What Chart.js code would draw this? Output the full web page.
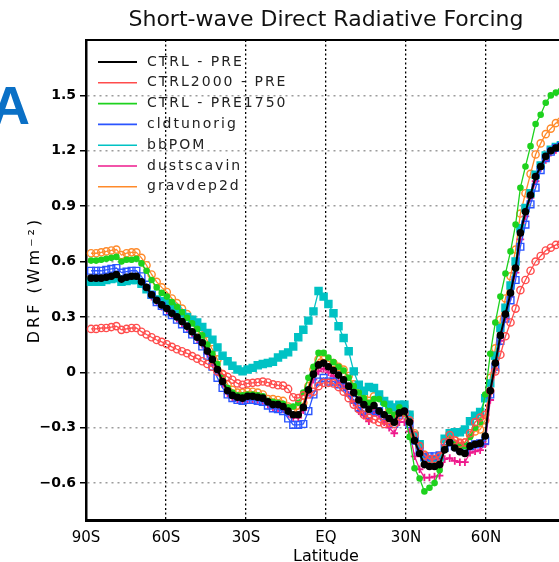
<!DOCTYPE html>
<html>
<head>
<meta charset="utf-8">
<script src="https://cdn.jsdelivr.net/npm/chart.js@4.4.1/dist/chart.umd.min.js"></script>
<style>
  html, body { margin: 0; padding: 0; background: #fff; overflow: hidden; }
  #wrap { width: 559px; height: 562px; overflow: hidden; }
  canvas { display: block; }
</style>
</head>
<body>
<div id="wrap"><canvas id="drfChart" width="652" height="562"></canvas></div>
<script>
// latitudes of the model grid (deg, S negative)
const lats = [-88.1, -86.2, -84.3, -82.4, -80.5, -78.6, -76.7, -74.8, -72.9, -71.1,
  -69.2, -67.3, -65.4, -63.5, -61.6, -59.7, -57.8, -55.9, -54.0, -52.1,
  -50.2, -48.3, -46.4, -44.5, -42.6, -40.7, -38.8, -36.9, -35.1, -33.2,
  -31.3, -29.4, -27.5, -25.6, -23.7, -21.8, -19.9, -18.0, -16.1, -14.2,
  -12.3, -10.4, -8.5, -6.6, -4.7, -2.8, -0.9, 0.9, 2.8, 4.7,
  6.6, 8.5, 10.4, 12.3, 14.2, 16.1, 18.0, 19.9, 21.8, 23.7,
  25.6, 27.5, 29.4, 31.3, 33.2, 35.1, 36.9, 38.8, 40.7, 42.6,
  44.5, 46.4, 48.3, 50.2, 52.1, 54.0, 55.9, 57.8, 59.7, 61.6,
  63.5, 65.4, 67.3, 69.2, 71.1, 72.9, 74.8, 76.7, 78.6, 80.5,
  82.4, 84.3, 86.2, 88.1, 90.0];

const ctrlPre = [0.51, 0.51, 0.51, 0.515, 0.52, 0.53, 0.505, 0.515, 0.52, 0.52,
  0.49, 0.46, 0.42, 0.39, 0.365, 0.345, 0.32, 0.30, 0.275, 0.25,
  0.22, 0.19, 0.16, 0.115, 0.07, 0.015, -0.05, -0.10, -0.125, -0.135,
  -0.14, -0.13, -0.13, -0.135, -0.14, -0.16, -0.175, -0.175, -0.185, -0.21,
  -0.23, -0.23, -0.19, -0.095, -0.01, 0.04, 0.05, 0.03, 0.01, -0.015,
  -0.04, -0.075, -0.11, -0.15, -0.175, -0.2, -0.18, -0.21, -0.23, -0.25,
  -0.27, -0.22, -0.21, -0.27, -0.37, -0.44, -0.50, -0.51, -0.51, -0.50,
  -0.42, -0.38, -0.41, -0.43, -0.44, -0.40, -0.39, -0.385, -0.345, -0.10,
  0.05, 0.2, 0.315, 0.43, 0.565, 0.755, 0.87, 0.96, 1.06, 1.115,
  1.17, 1.20, 1.215, 1.225, 1.23];

const ctrl2000Pre = [0.235, 0.235, 0.24, 0.24, 0.245, 0.25, 0.23, 0.235, 0.24, 0.24,
  0.22, 0.205, 0.19, 0.175, 0.165, 0.152, 0.138, 0.125, 0.114, 0.103,
  0.088, 0.074, 0.06, 0.045, 0.03, 0.005, -0.01, -0.025, -0.04, -0.06,
  -0.067, -0.06, -0.057, -0.054, -0.05, -0.055, -0.065, -0.07, -0.072, -0.09,
  -0.135, -0.14, -0.125, -0.12, -0.105, -0.075, -0.057, -0.057, -0.06, -0.08,
  -0.105, -0.14, -0.175, -0.2, -0.23, -0.245, -0.255, -0.27, -0.28, -0.275,
  -0.28, -0.24, -0.22, -0.26, -0.34, -0.40, -0.45, -0.47, -0.47, -0.455,
  -0.38, -0.34, -0.37, -0.385, -0.38, -0.33, -0.27, -0.245, -0.23, -0.10,
  0.005, 0.095, 0.195, 0.27, 0.345, 0.445, 0.50, 0.55, 0.60, 0.63,
  0.66, 0.675, 0.69, 0.695, 0.70];

const ctrlPre1750 = [0.605, 0.605, 0.61, 0.615, 0.62, 0.625, 0.60, 0.61, 0.61, 0.615,
  0.59, 0.55, 0.50, 0.46, 0.43, 0.41, 0.38, 0.355, 0.325, 0.295,
  0.265, 0.235, 0.20, 0.15, 0.10, 0.045, -0.03, -0.085, -0.11, -0.125,
  -0.125, -0.12, -0.12, -0.125, -0.13, -0.155, -0.16, -0.165, -0.17, -0.19,
  -0.185, -0.165, -0.11, -0.03, 0.03, 0.105, 0.105, 0.08, 0.055, 0.03,
  0.01, -0.03, -0.075, -0.11, -0.14, -0.165, -0.145, -0.145, -0.17, -0.21,
  -0.23, -0.19, -0.22, -0.35, -0.52, -0.575, -0.645, -0.625, -0.60, -0.53,
  -0.41, -0.36, -0.39, -0.40, -0.40, -0.35, -0.30, -0.27, -0.12, 0.10,
  0.27, 0.41, 0.535, 0.655, 0.80, 1.00, 1.115, 1.225, 1.345, 1.395,
  1.46, 1.50, 1.515, 1.525, 1.53];

const cldtunorig = [0.55, 0.55, 0.55, 0.555, 0.56, 0.565, 0.54, 0.545, 0.55, 0.55,
  0.52, 0.475, 0.42, 0.38, 0.36, 0.33, 0.31, 0.285, 0.26, 0.235,
  0.205, 0.175, 0.14, 0.09, 0.03, -0.03, -0.085, -0.12, -0.14, -0.15,
  -0.155, -0.15, -0.15, -0.155, -0.16, -0.18, -0.195, -0.20, -0.21, -0.25,
  -0.285, -0.285, -0.28, -0.21, -0.12, -0.05, -0.03, -0.05, -0.05, -0.065,
  -0.08, -0.11, -0.15, -0.19, -0.21, -0.23, -0.21, -0.21, -0.24, -0.26,
  -0.28, -0.23, -0.22, -0.28, -0.37, -0.43, -0.46, -0.455, -0.455, -0.45,
  -0.41, -0.38, -0.40, -0.415, -0.425, -0.40, -0.39, -0.385, -0.37, -0.12,
  0.03, 0.17, 0.29, 0.39, 0.50, 0.68, 0.80, 0.91, 1.00, 1.095,
  1.16, 1.195, 1.215, 1.225, 1.23];

const bbPOM = [0.49, 0.49, 0.49, 0.50, 0.505, 0.51, 0.49, 0.495, 0.50, 0.50,
  0.48, 0.45, 0.42, 0.395, 0.385, 0.375, 0.355, 0.34, 0.32, 0.30,
  0.285, 0.27, 0.245, 0.213, 0.177, 0.135, 0.09, 0.06, 0.035, 0.015,
  0.005, 0.015, 0.024, 0.038, 0.045, 0.05, 0.057, 0.08, 0.096, 0.108,
  0.14, 0.19, 0.23, 0.28, 0.33, 0.44, 0.41, 0.37, 0.32, 0.25,
  0.186, 0.114, 0.005, -0.067, -0.10, -0.08, -0.085, -0.12, -0.155, -0.175,
  -0.19, -0.175, -0.175, -0.23, -0.345, -0.39, -0.46, -0.475, -0.475, -0.46,
  -0.36, -0.33, -0.325, -0.325, -0.31, -0.265, -0.235, -0.215, -0.14, -0.06,
  0.09, 0.24, 0.35, 0.47, 0.60, 0.78, 0.89, 0.97, 1.07, 1.12,
  1.175, 1.205, 1.22, 1.23, 1.235];

const dustscavin = [0.50, 0.50, 0.50, 0.505, 0.51, 0.52, 0.495, 0.505, 0.51, 0.51,
  0.48, 0.45, 0.41, 0.38, 0.355, 0.335, 0.31, 0.29, 0.265, 0.24,
  0.21, 0.18, 0.15, 0.10, 0.05, 0.0, -0.065, -0.115, -0.14, -0.15,
  -0.155, -0.145, -0.145, -0.15, -0.155, -0.175, -0.19, -0.195, -0.2, -0.225,
  -0.245, -0.245, -0.205, -0.11, -0.04, 0.005, 0.02, 0.0, -0.02, -0.055,
  -0.075, -0.12, -0.165, -0.21, -0.235, -0.265, -0.22, -0.235, -0.27, -0.30,
  -0.33, -0.27, -0.27, -0.32, -0.455, -0.525, -0.57, -0.57, -0.565, -0.56,
  -0.47, -0.465, -0.48, -0.487, -0.487, -0.436, -0.428, -0.422, -0.39, -0.15,
  0.02, 0.17, 0.29, 0.41, 0.54, 0.72, 0.845, 0.945, 1.035, 1.105,
  1.15, 1.19, 1.205, 1.215, 1.22];

const gravdep2d = [0.645, 0.645, 0.65, 0.655, 0.66, 0.665, 0.635, 0.645, 0.65, 0.65,
  0.62, 0.58, 0.53, 0.49, 0.46, 0.435, 0.40, 0.375, 0.345, 0.315,
  0.285, 0.255, 0.22, 0.17, 0.125, 0.07, -0.01, -0.065, -0.095, -0.11,
  -0.11, -0.105, -0.105, -0.11, -0.12, -0.145, -0.145, -0.15, -0.155, -0.185,
  -0.20, -0.20, -0.165, -0.075, 0.015, 0.07, 0.07, 0.06, 0.05, 0.03,
  0.015, -0.02, -0.065, -0.10, -0.13, -0.155, -0.13, -0.13, -0.16, -0.20,
  -0.22, -0.185, -0.185, -0.23, -0.33, -0.39, -0.445, -0.47, -0.47, -0.46,
  -0.375, -0.33, -0.365, -0.38, -0.38, -0.34, -0.32, -0.31, -0.26, -0.03,
  0.13, 0.285, 0.40, 0.52, 0.665, 0.86, 0.97, 1.075, 1.18, 1.24,
  1.29, 1.32, 1.35, 1.36, 1.37];

const seriesNames = ["CTRL - PRE", "CTRL2000 - PRE", "CTRL - PRE1750", "cldtunorig", "bbPOM", "dustscavin", "gravdep2d"];
const seriesData = [ctrlPre, ctrl2000Pre, ctrlPre1750, cldtunorig, bbPOM, dustscavin, gravdep2d];

// 90N sits just past the right edge of the picture, so its label stays blank
const xTickVals = [-90, -60, -30, 0, 30, 60, 90];
const xTickLabels = ["90S", "60S", "30S", "EQ", "30N", "60N", ""];
const yTickVals = [-0.6, -0.3, 0, 0.3, 0.6, 0.9, 1.2, 1.5];

// look of each series: colour, marker, filled?
const looks = [
  { color: "#000000", marker: "circle", r: 3.1, filled: true, lw: 2 },
  { color: "#ff4c4c", marker: "circle", r: 3.6, filled: false, lw: 1.3 },
  { color: "#1ed21e", marker: "circle", r: 2.6, filled: true, lw: 1.3 },
  { color: "#2b55ff", marker: "rect", r: 4.8, filled: false, lw: 1.3 },
  { color: "#00c2c4", marker: "rect", r: 5, filled: true, lw: 1.3 },
  { color: "#ee1a8c", marker: "cross", r: 3.8, filled: false, lw: 1.3 },
  { color: "#ff8a2a", marker: "circle", r: 3.6, filled: false, lw: 1.3 }
];

Chart.defaults.font.family = "DejaVu Sans";
Chart.defaults.color = "#000";

const datasets = seriesNames.map((name, k) => {
  const lk = looks[k];
  return {
    label: name,
    data: lats.map((lat, i) => ({ x: lat, y: seriesData[k][i] })),
    borderColor: lk.color,
    backgroundColor: lk.color,
    borderWidth: lk.lw,
    pointStyle: lk.marker,
    pointRadius: lk.r,
    pointBorderWidth: lk.marker === "cross" ? 1.8 : 1.4,
    pointBorderColor: lk.color,
    pointBackgroundColor: lk.filled ? lk.color : "rgba(0,0,0,0)",
    tension: 0,
    fill: false
  };
});

// legend, y title, frame and panel letter are drawn on the canvas here
const extras = {
  id: "extras",
  afterDraw(chart) {
    const c = chart.ctx;
    const a = chart.chartArea;
    c.save();
    // frame top/right
    c.strokeStyle = "#000";
    c.lineWidth = 2.2;
    c.beginPath();
    c.moveTo(a.left, a.top);
    c.lineTo(a.right, a.top);
    c.lineTo(a.right, a.bottom);
    c.stroke();

    // legend
    c.font = "14px 'DejaVu Sans'";
    c.textBaseline = "middle";
    c.textAlign = "left";
    if ("letterSpacing" in c) c.letterSpacing = "2px";
    seriesNames.forEach((name, k) => {
      const y = 62 + k * 20.8;
      c.strokeStyle = looks[k].color;
      c.lineWidth = k === 0 ? 2.2 : 1.6;
      c.beginPath();
      c.moveTo(98, y);
      c.lineTo(137, y);
      c.stroke();
      c.fillStyle = "#222";
      c.fillText(name, 147, y);
    });

    // y axis title
    c.save();
    c.translate(35, 280);
    c.rotate(-Math.PI / 2);
    c.font = "16px 'DejaVu Sans'";
    if ("letterSpacing" in c) c.letterSpacing = "3px";
    c.textAlign = "center";
    c.fillStyle = "#000";
    c.fillText("DRF (Wm\u207B\u00B2)", 0, 0);
    c.restore();

    // panel letter
    if ("letterSpacing" in c) c.letterSpacing = "0px";
    c.font = "bold 54px 'Liberation Sans'";
    c.fillStyle = "#0a70c6";
    c.textAlign = "center";
    c.textBaseline = "alphabetic";
    c.fillText("A", 10.5, 124);
    c.restore();
  }
};

new Chart(document.getElementById("drfChart"), {
  type: "line",
  data: { datasets: datasets },
  options: {
    responsive: false,
    animation: false,
    layout: { padding: { left: 0, right: 86, top: 0, bottom: 0 } },
    plugins: {
      legend: { display: false },
      tooltip: { enabled: false },
      title: {
        display: true,
        text: "Short-wave Direct Radiative Forcing",
        fullSize: false,
        color: "#111",
        font: { size: 22, weight: "normal" },
        padding: { top: 7.5, bottom: 6.1 }
      }
    },
    scales: {
      x: {
        type: "linear",
        min: -90,
        max: 90,
        afterBuildTicks: s => { s.ticks = xTickVals.map(v => ({ value: v })); },
        afterFit: s => { s.height = 42; },
        ticks: {
          autoSkip: false,
          maxRotation: 0,
          padding: 9,
          font: { size: 15 },
          callback: (v, i) => xTickLabels[i]
        },
        grid: { color: "#000", lineWidth: 1.3, drawTicks: false },
        border: { color: "#000", width: 3, dash: [2, 2.5] },
        title: {
          display: true,
          text: "Latitude",
          font: { size: 16 },
          padding: { top: 0, bottom: -4 }
        }
      },
      y: {
        min: -0.8,
        max: 1.8,
        afterBuildTicks: s => { s.ticks = yTickVals.map(v => ({ value: v })); },
        afterFit: s => { s.width = 86; },
        ticks: {
          padding: 4,
          font: { size: 14, weight: "bold" },
          callback: v => (v === 0 ? "0" : (v < 0 ? "\u2212" : "") + Math.abs(v).toFixed(1))
        },
        grid: {
          color: "#9c9c9c",
          lineWidth: 1.5,
          tickColor: "#000",
          tickLength: 6,
          tickWidth: 1.5
        },
        border: { color: "#000", width: 2.5, dash: [2, 4] }
      }
    }
  },
  plugins: [extras]
});
</script>
</body>
</html>
